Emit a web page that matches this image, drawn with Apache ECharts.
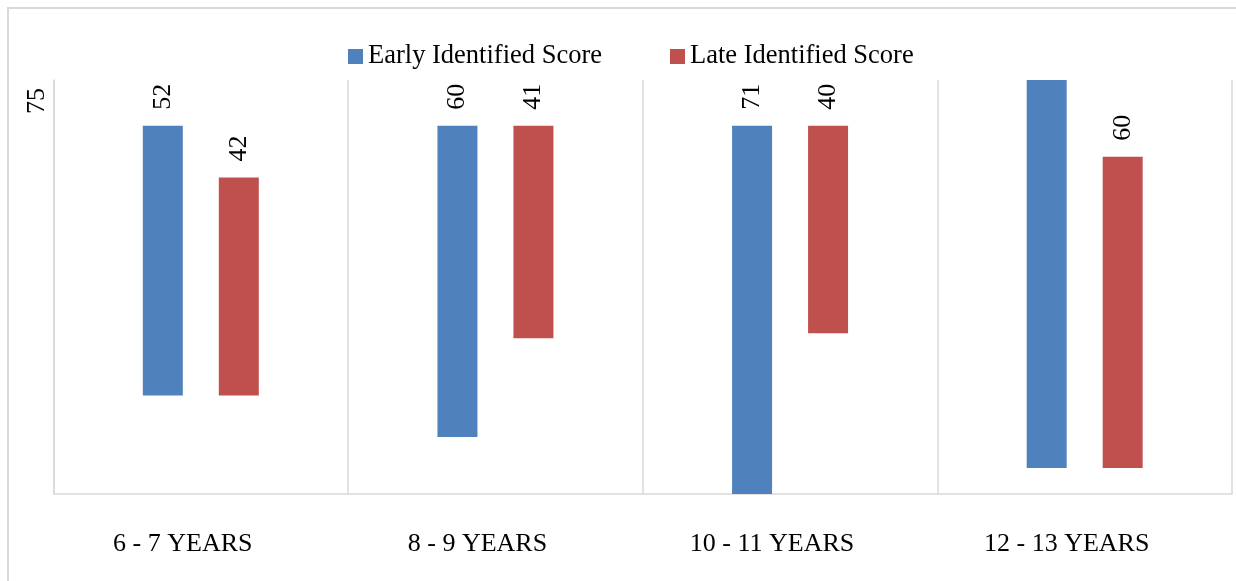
<!DOCTYPE html>
<html>
<head>
<meta charset="utf-8">
<script src="https://cdn.jsdelivr.net/npm/echarts@6/dist/echarts.min.js"></script>
<style>html,body{margin:0;padding:0;background:#fff}#c{width:1236px;height:581px}</style>
</head>
<body>
<div id="c"></div>
<script>
const categories = ['6 - 7 YEARS', '8 - 9 YEARS', '10 - 11 YEARS', '12 - 13 YEARS'];
const earlyValues = [52, 60, 71, 75];
const lateValues = [42, 41, 40, 60];
// floating offsets (start of each bar) as drawn in the reference
const earlyBase = [19, 11, 0, 5];
const lateBase = [19, 30, 31, 5];
const seriesNames = ['Early Identified Score', 'Late Identified Score'];
const colors = ['#4F81BD', '#C0504D'];

const FONT = '"Liberation Serif", "Times New Roman", serif';
const chart = echarts.init(document.getElementById('c'));
const labelCfg = {
  show: true, position: 'top', rotate: 90, distance: 16,
  align: 'left', verticalAlign: 'middle',
  fontFamily: FONT, fontSize: 26, color: '#000'
};
chart.setOption({
  animation: false,
  backgroundColor: '#fff',
  legend: {
    data: seriesNames, left: 343, top: 38,
    itemWidth: 15, itemHeight: 15, itemGap: 68,
    icon: 'rect',
    textStyle: { fontFamily: FONT, fontSize: 26.5, color: '#000' }
  },
  grid: { left: 53.5, right: 4, top: 80, bottom: 87 },
  xAxis: {
    type: 'category', data: categories,
    axisLine: { show: true, lineStyle: { color: '#D9D9D9', width: 1.5 } },
    axisTick: { show: false },
    splitLine: { show: true, lineStyle: { color: '#D9D9D9', width: 1.5 } },
    axisLabel: { margin: 37, padding: [0, 36, 0, 0], fontFamily: FONT, fontSize: 26, color: '#000' }
  },
  yAxis: {
    type: 'value', min: 0, max: 79.8,
    axisLine: { show: true, lineStyle: { color: '#D9D9D9', width: 1.5 } },
    axisLabel: { show: false }, axisTick: { show: false },
    splitLine: { show: false }
  },
  series: [
    { name: 'eb', type: 'bar', stack: 'e', data: earlyBase, barWidth: 40, barGap: '90%',
      itemStyle: { color: 'transparent' }, silent: true },
    { name: seriesNames[0], type: 'bar', stack: 'e', barWidth: 40, barGap: '90%',
      itemStyle: { color: colors[0] },
      data: earlyValues.map((v, i) => i === 3 ? { value: v, label: { show: false } } : v),
      label: labelCfg },
    { name: 'lb', type: 'bar', stack: 'l', data: lateBase, barWidth: 40, barGap: '90%',
      itemStyle: { color: 'transparent' }, silent: true },
    { name: seriesNames[1], type: 'bar', stack: 'l', barWidth: 40, barGap: '90%',
      itemStyle: { color: colors[1] }, data: lateValues, label: labelCfg }
  ],
  graphic: [
    { type: 'rect', shape: { x: 8, y: 8, width: 1300, height: 700 },
      style: { fill: 'none', stroke: '#D9D9D9', lineWidth: 2 }, z: -1 },
    { type: 'text', x: 37, y: 101, rotation: Math.PI / 2,
      style: { text: String(earlyValues[3]), fontFamily: FONT, fontSize: 26, fill: '#000',
        align: 'center', verticalAlign: 'middle' } }
  ]
});
</script>
</body>
</html>
